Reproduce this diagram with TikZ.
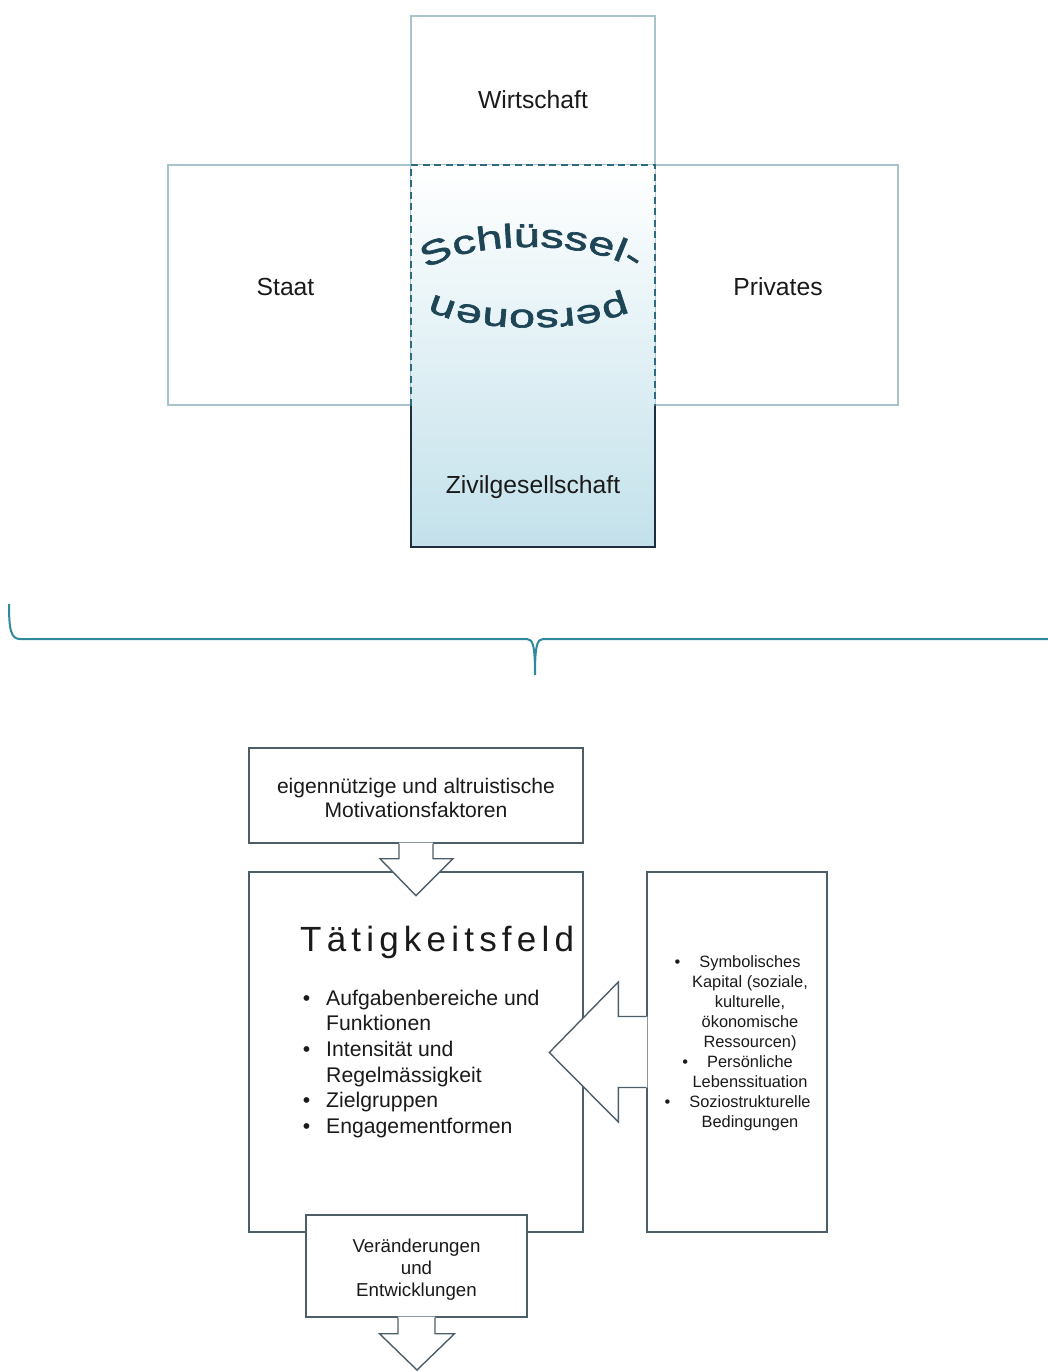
\documentclass[tikz,border=0pt]{standalone}
\usepackage{fontspec}
\setmainfont{Liberation Sans}
\newfontfamily\wordart[FakeStretch=1.42,FakeBold=2]{Liberation Sans}
\usetikzlibrary{decorations.text,calc}
\definecolor{lightframe}{HTML}{A9C3CC}
\definecolor{tealdash}{HTML}{2C6A7E}
\definecolor{navyframe}{HTML}{1E2E3E}
\definecolor{paleblue}{HTML}{C3E1EB}
\definecolor{wordcol}{HTML}{1D4556}
\definecolor{boxframe}{HTML}{4E5E69}
\definecolor{bracecol}{HTML}{2F8A9C}
\definecolor{txt}{HTML}{1A1A1A}
\newcommand\lsp{\kern5.2pt}
\newcommand\bul{\llap{\textbullet\hspace{16pt}}}
\newcommand\bulsm{\llap{\textbullet\hspace{19pt}}}
\tikzset{
  lightbox/.style={draw=lightframe, line width=1.5pt, fill=white, inner sep=0pt},
  flowbox/.style={draw=boxframe, line width=1.4pt, fill=white, inner sep=0pt},
  toplabel/.style={font=\fontsize{24.7}{29}\selectfont, text=txt, inner sep=0pt, anchor=base},
  flowtext/.style={inner sep=0pt, text=txt},
  arrowline/.style={draw=boxframe, line width=1.4pt, line join=miter},
  wordarc/.style={decorate, decoration={text along path, text align=center, text color=wordcol,
     text={|\wordart\fontsize{33}{33}\selectfont|#1}}}
}
\begin{document}
\begin{tikzpicture}[x=1pt,y=-1pt]
\useasboundingbox (0,0) rectangle (1048,1371);
\fill[white] (0,0) rectangle (1048,1371);

% ---- top cross ----
\node[lightbox, minimum width=244pt, minimum height=149pt] (wirt) at (533,90.5) {};
\node[lightbox, minimum width=243pt, minimum height=240pt] (staat) at (289.5,285) {};
\node[lightbox, minimum width=243pt, minimum height=240pt] (priv) at (776.5,285) {};
\node[inner sep=0pt, minimum width=244pt, minimum height=382pt, top color=white, bottom color=paleblue] (civ) at (533,356) {};
\draw[tealdash, line width=2pt, dash pattern=on 7pt off 4.5pt]
  (civ.west |- staat.south) -- (civ.north west) -- (civ.north east) -- (civ.east |- priv.south);
\draw[navyframe, line width=2pt]
  (civ.west |- staat.south) -- (civ.south west) -- (civ.south east) -- (civ.east |- priv.south);

\node[toplabel] (wirtT) at (533,108) {Wirtschaft};
\node[toplabel] (staatT) at (285.5,295.5) {Staat};
\node[toplabel] (privT) at (778,295.5) {Privates};
\node[toplabel] (civT) at (533,493.5) {Zivilgesellschaft};

\path[wordarc={Schlüssel-}] (424.8,272.1) arc[start angle=197, end angle=345, x radius=110, y radius=35.5];
\path[wordarc={personen}] (630.0,290.9) arc[start angle=17.8, end angle=166, x radius=105, y radius=27.5];

% ---- brace ----
\coordinate (bl) at (9,604);
\coordinate (btip) at (535,675);
\coordinate (br) at (1048,639);
\draw[bracecol, line width=2pt] (bl) .. controls (9,630) and (11,639) .. (20,639) -- (527,639)
  .. controls (533,639) and (535,646) .. (btip) .. controls (535,646) and (537,639) .. (543,639) -- (br);

% ---- lower flow ----
\node[flowbox, minimum width=334pt, minimum height=95pt] (motiv) at (416,795.5) {};
\node[flowbox, minimum width=334pt, minimum height=360pt] (taet) at (416,1052) {};
\node[flowbox, minimum width=180pt, minimum height=360pt] (res) at (737,1052) {};
\node[flowbox, minimum width=221pt, minimum height=102pt] (chg) at (416.5,1266) {};

% arrow motiv -> taet
\fill[white] ($(motiv.south)+(-17,-1)$) -- ($(motiv.south)+(-17,15)$) -- ($(motiv.south)+(-36,15)$)
  -- ($(motiv.south)+(0,52)$) -- ($(motiv.south)+(37,15)$) -- ($(motiv.south)+(17,15)$) -- ($(motiv.south)+(17,-1)$) -- cycle;
\draw[arrowline] ($(motiv.south)+(-17,0)$) -- ($(motiv.south)+(-17,15)$) -- ($(motiv.south)+(-36,15)$)
  -- ($(motiv.south)+(0,52)$) -- ($(motiv.south)+(37,15)$) -- ($(motiv.south)+(17,15)$) -- ($(motiv.south)+(17,0)$);

% arrow res -> taet
\fill[white] ($(res.west)+(1,-35.5)$) -- ($(res.west)+(-28,-35.5)$) -- ($(res.west)+(-28,-70)$)
  -- ($(res.west)+(-97,0.5)$) -- ($(res.west)+(-28,70)$) -- ($(res.west)+(-28,35.5)$) -- ($(res.west)+(1,35.5)$) -- cycle;
\draw[arrowline] ($(res.west)+(0,-35.5)$) -- ($(res.west)+(-28,-35.5)$) -- ($(res.west)+(-28,-70)$)
  -- ($(res.west)+(-97,0.5)$) -- ($(res.west)+(-28,70)$) -- ($(res.west)+(-28,35.5)$) -- ($(res.west)+(0,35.5)$);

% arrow chg -> down
\coordinate (downend) at (417,1370);
\fill[white] ($(chg.south)+(-18.5,-1)$) -- ($(chg.south)+(-18.5,16)$) -- ($(chg.south)+(-37,16)$)
  -- (downend) -- ($(chg.south)+(38,16)$) -- ($(chg.south)+(18.5,16)$) -- ($(chg.south)+(18.5,-1)$) -- cycle;
\draw[arrowline] ($(chg.south)+(-18.5,0)$) -- ($(chg.south)+(-18.5,16)$) -- ($(chg.south)+(-37,16)$)
  -- (downend) -- ($(chg.south)+(38,16)$) -- ($(chg.south)+(18.5,16)$) -- ($(chg.south)+(18.5,0)$);

% texts
\node[flowtext, anchor=north, align=center, font=\fontsize{21.1}{24.5}\selectfont] (motivT) at (416,777.9)
  {eigennützige und altruistische\\Motivationsfaktoren};
\node[flowtext, anchor=base west, font=\fontsize{35}{40}\selectfont] (title) at (300,951.7)
  {T\lsp ä\lsp t\lsp i\lsp g\lsp k\lsp e\lsp i\lsp t\lsp s\lsp f\lsp e\lsp l\lsp d};
\node[flowtext, anchor=north west, align=left, font=\fontsize{21.2}{25.6}\selectfont] (items) at (326,989.8)
  {\bul Aufgabenbereiche und\\Funktionen\\\bul Intensität und\\Regelmässigkeit\\\bul Zielgruppen\\\bul Engagementformen};
\node[flowtext, anchor=north, align=center, font=\fontsize{16.4}{20}\selectfont] (resT) at (750,955.3)
  {\bulsm Symbolisches\\Kapital (soziale,\\kulturelle,\\ökonomische\\Ressourcen)\\\bulsm Persönliche\\Lebenssituation\\\bulsm Soziostrukturelle\\Bedingungen};
\node[flowtext, anchor=north, align=center, font=\fontsize{18.7}{22}\selectfont] (chgT) at (416.5,1238.6)
  {Veränderungen\\und\\Entwicklungen};
\end{tikzpicture}
\end{document}
